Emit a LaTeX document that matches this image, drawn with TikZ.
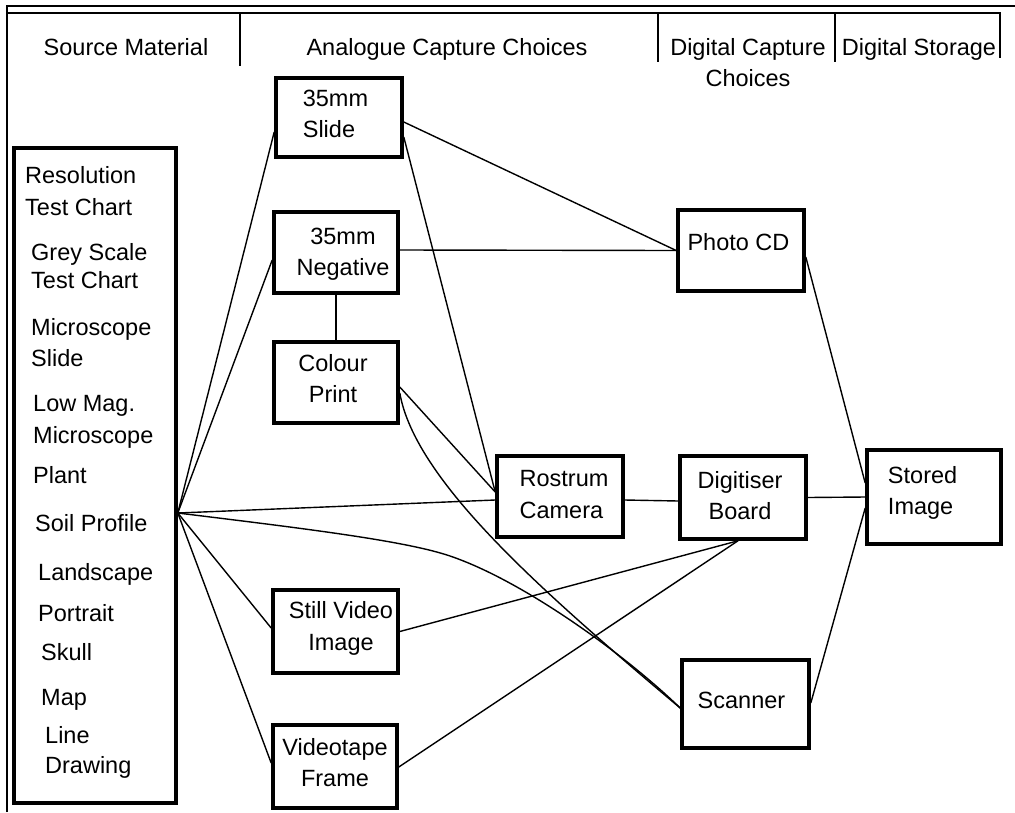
\documentclass[tikz,border=0pt]{standalone}
\usepackage{fontspec}
\setmainfont{Liberation Sans}
\begin{document}
\begin{tikzpicture}[x=1pt,y=-1pt,
  box/.style={draw, rectangle, line width=3.6pt, inner sep=0pt},
  lbl/.style={inner sep=0pt, font=\fontsize{23.5}{31.5}\selectfont},
  item/.style={lbl, anchor=base west},
  link/.style={line width=1.4pt},
  rule/.style={line width=2.6pt}]
\useasboundingbox (0,0) rectangle (1015,812);

% outer frame and column headings
\draw[rule] (7,812) -- (7,6) -- (1015,6);
\draw[rule] (7,13) -- (1000,13) -- (1000,58);
\draw[rule] (240,13) -- (240,66);
\draw[rule] (658,13) -- (658,62);
\draw[rule] (835,13) -- (835,62);
\node[lbl, anchor=base] (h-src) at (126,55) {Source Material};
\node[lbl, anchor=base] (h-ana) at (447,55) {Analogue Capture Choices};
\node[lbl, anchor=north, align=center] (h-dig) at (748,38) {Digital Capture\\Choices};
\node[lbl, anchor=base] (h-sto) at (919,55) {Digital Storage};

% source material list
\node[box, minimum width=162, minimum height=655] (source) at (95,475.5) {};
\node[item] (s1)  at (25,183) {Resolution};
\node[item] (s2)  at (25,215) {Test Chart};
\node[item] (s3)  at (31,260) {Grey Scale};
\node[item] (s4)  at (31,288) {Test Chart};
\node[item] (s5)  at (31,335) {Microscope};
\node[item] (s6)  at (31,366) {Slide};
\node[item] (s7)  at (33,411) {Low Mag.};
\node[item] (s8)  at (33,443) {Microscope};
\node[item] (s9)  at (33,483) {Plant};
\node[item] (s10) at (35,531) {Soil Profile};
\node[item] (s11) at (38,580) {Landscape};
\node[item] (s12) at (38,621) {Portrait};
\node[item] (s13) at (41,660) {Skull};
\node[item] (s14) at (41,705) {Map};
\node[item] (s15) at (45,743) {Line};
\node[item] (s16) at (45,773) {Drawing};
\coordinate (soil) at ([yshift=-37.5pt]source.east);

% analogue capture boxes
\node[box, minimum width=126, minimum height=79] (slide)   at (339,117.5) {};
\node[box, minimum width=124, minimum height=81] (neg)     at (336,252.5) {};
\node[box, minimum width=124, minimum height=81] (colour)  at (336,382.5) {};
\node[box, minimum width=126, minimum height=81] (rostrum) at (560,496.5) {};
\node[box, minimum width=125, minimum height=83] (still)   at (335.5,631.5) {};
\node[box, minimum width=124, minimum height=83] (video)   at (335,766.5) {};
% digital capture boxes
\node[box, minimum width=126, minimum height=81] (photocd) at (741,250.5) {};
\node[box, minimum width=126, minimum height=83] (digit)   at (743,497.5) {};
\node[box, minimum width=127, minimum height=88] (scanner) at (745.5,704) {};
% storage
\node[box, minimum width=134, minimum height=94] (stored)  at (934,497) {};

% box captions
\node[lbl, align=left]   (slide-t)   at (335.5,114) {35mm\\Slide};
\node[lbl, align=center] (neg-t)     at (343,254)   {35mm\\Negative};
\node[lbl, align=center] (colour-t)  at (333,378.5) {Colour\\Print};
\node[lbl, align=left]   (rostrum-t) at (564,494.5) {Rostrum\\Camera};
\node[lbl, align=center] (still-t)   at (341,628.5) {Still Video\\Image};
\node[lbl, align=center] (video-t)   at (335,762.5) {Videotape\\Frame};
\node[lbl]               (photocd-t) at (738.5,242) {Photo CD};
\node[lbl, align=center] (digit-t)   at (740,495.5) {Digitiser\\Board};
\node[lbl]               (scanner-t) at (741.5,700) {Scanner};
\node[lbl, align=left]   (stored-t)  at (922.6,493) {Stored\\Image};

% connectors from the source list
\draw[link] (soil) -- ([yshift=-14.5pt]slide.west);
\draw[link] (soil) -- ([yshift=-7.5pt]neg.west);
\draw[link] (soil) -- ([yshift=-3.5pt]rostrum.west);
\draw[link] (soil) -- ([yshift=3.5pt]still.west);
\draw[link] (soil) -- ([yshift=3.5pt]video.west);
\draw[link] (soil) .. controls (300,528) and (400,540) .. (447,555)
                   .. controls (518,578) and (620,650) .. ([yshift=-4pt]scanner.west);

% analogue to digital capture
\draw[link] ([yshift=-4.5pt]slide.east) -- (photocd.west);
\draw[link] ([yshift=-19.5pt]slide.east) -- ([yshift=4.5pt]rostrum.west);
\draw[link] ([yshift=2.5pt]neg.east) -- (photocd.west);
\draw[link] (neg.south) -- (colour.north);
\draw[link] ([yshift=-4.5pt]colour.east) -- ([yshift=4.5pt]rostrum.west);
\draw[link] ([yshift=-10.5pt]colour.east) .. controls (415,480) and (540,590) .. ([yshift=-4pt]scanner.west);
\draw[link] ([yshift=-3.5pt]rostrum.east) -- ([yshift=-3.5pt]digit.west);
\draw[link] (still.east) -- ([xshift=-5pt]digit.south);
\draw[link] ([yshift=-0.5pt]video.east) -- ([xshift=-5pt]digit.south);

% digital capture to storage
\draw[link] (digit.east) -- (stored.west);
\draw[link] ([yshift=-6.5pt]photocd.east) -- ([yshift=14pt]stored.west);
\draw[link] ([yshift=1pt]scanner.east) -- ([yshift=-11pt]stored.west);
\end{tikzpicture}
\end{document}
